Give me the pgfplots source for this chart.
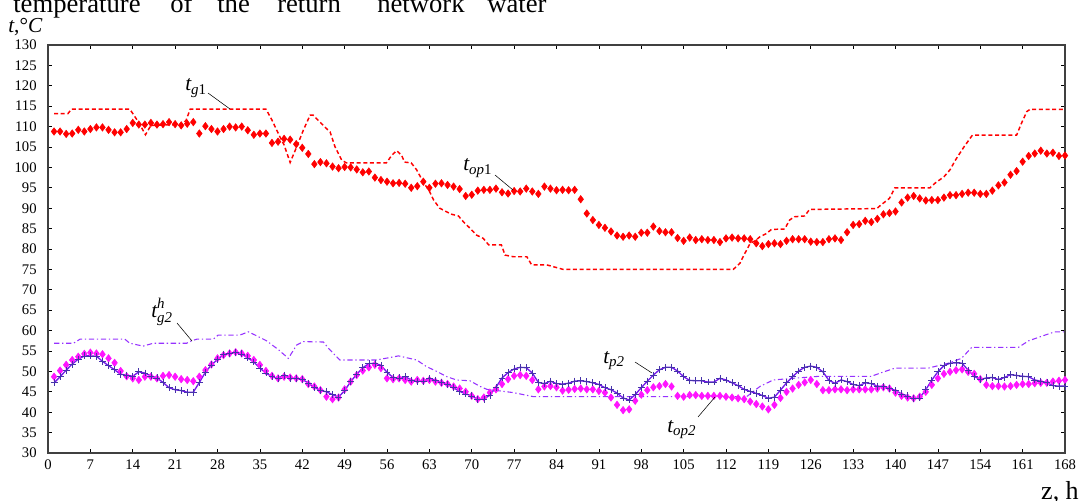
\documentclass[border=0pt]{standalone}
\usepackage{amsmath}
\usepackage{pgfplots}
\pgfplotsset{compat=1.18}
\usepackage{fontspec}
\setmainfont{Liberation Serif}
\definecolor{myred}{RGB}{255,0,0}
\definecolor{mymag}{RGB}{255,20,255}
\definecolor{myviol}{RGB}{115,25,235}
\definecolor{mymark}{RGB}{70,50,170}
\definecolor{mydd}{RGB}{150,50,255}
\begin{document}
\begin{tikzpicture}
\begin{axis}[
  at={(0,0)}, anchor=south west,
  scale only axis, width=762.75pt, height=306pt,
  xmin=0, xmax=168, ymin=30, ymax=130,
  xtick={0,7,...,168}, ytick={30,35,...,130},
  tick align=inside, major tick length=3pt,
  axis line style={black!75, line width=0.8pt},
  tick style={black, line width=0.5pt},
  tick label style={font=\fontsize{11}{13}\selectfont},
  yticklabel style={xshift=-5pt},
  xticklabel style={yshift=-1.5pt},
  /pgf/number format/assume math mode=true,
  clip=false,
]
% t_g1 dashed
\addplot[myred, line width=1.1pt, dash pattern=on 3pt off 2pt] coordinates {
(1,113.2)(3.3,113.2)(3.9,114.3)(13.5,114.3)(15,111)(16.1,108)(17,110.3)(22,110.5)(22.8,111.5)(23.5,114.3)(36,114.3)(37,111.6)(38.3,107.5)(39,105.5)(40,101.2)(41.1,105.1)(42.2,109.2)(43.3,112.8)(43.8,112.8)(44.6,111.6)(45.8,109.8)(46.6,108.7)(47.4,105.1)(48.5,101.8)(49.3,101.1)(55.9,101.1)(56.8,103)(57.6,104.1)(58.4,103)(58.9,101.3)(60,101.1)(60.9,99.4)(62.1,96.1)(62.9,94.5)(63.7,92)(64.7,90)(65.6,89.3)(66.7,88.5)(67.8,88.1)(68.6,86.7)(69.7,85.1)(70.8,83.4)(71.9,82.6)(72.8,81)(74.9,81)(75.5,78.5)(76.9,78.1)(79.1,78.1)(79.9,76.1)(82.4,76.1)(85.1,75.0)(113.2,75.0)(114.3,76.5)(115.1,78.9)(116,81.4)(116.8,82)(117.6,83)(118.7,83.8)(119.5,84.8)(121.7,84.9)(122.5,87.1)(123.3,87.9)(125,88.1)(125.8,89.7)(136.9,89.9)(137.6,90.8)(139,92.4)(139.9,95.0)(145.7,95.0)(146.5,96.1)(148,97.7)(149,99.4)(149.9,101.8)(151.3,105)(152.7,107.9)(160,107.9)(160.8,110.8)(161.7,113.7)(162.2,114.2)(168,114.2)
};
% t_op1 diamonds
\addplot[only marks, mark=diamond*, mark size=2.8pt, color=myred] coordinates {
(1,108.8)(2,108.8)(3,108.2)(4,108.3)(5,109.2)(6,108.8)(7,109.4)(8,109.8)(9,109.8)(10,109.2)
(11,108.6)(12,108.6)(13,109.4)(14,110.9)(15,110.5)(16,110.5)(17,110.9)(18,110.5)(19,110.6)(20,111.1)
(21,110.6)(22,110.3)(23,110.7)(24,111.1)(25,108.3)(26,110.1)(27,109.4)(28,108.8)(29,109.4)(30,110.0)
(31,109.8)(32,110.0)(33,109.1)(34,108.0)(35,108.3)(36,108.3)(37,106.0)(38,106.3)(39,107.0)(40,106.8)
(41,105.7)(42,104.8)(43,103.3)(44,100.8)(45,101.3)(46,101.0)(47,100.2)(48,99.8)(49,100.1)(50,100.0)
(51,99.5)(52,98.8)(53,99.0)(54,97.5)(55,96.9)(56,96.5)(57,96.1)(58,96.2)(59,96.0)(60,95.0)
(61,95.4)(62,96.5)(63,95.0)(64,96.0)(65,96.1)(66,95.7)(67,95.3)(68,94.7)(69,93.0)(70,93.3)
(71,94.3)(72,94.5)(73,94.5)(74,94.8)(75,93.9)(76,93.6)(77,94.2)(78,94.1)(79,94.8)(80,94.1)
(81,93.5)(82,95.3)(83,94.8)(84,94.4)(85,94.5)(86,94.4)(87,94.5)(88,92.2)(89,88.7)(90,87.1)
(91,85.9)(92,85.2)(93,84.3)(94,83.3)(95,83.0)(96,83.3)(97,83.0)(98,84.0)(99,84.0)(100,85.5)
(101,84.4)(102,84.1)(103,84.1)(104,82.7)(105,82.0)(106,82.8)(107,82.2)(108,82.4)(109,82.2)(110,82.2)
(111,81.7)(112,82.6)(113,82.8)(114,82.6)(115,82.6)(116,82.4)(117,81.4)(118,80.7)(119,81.2)(120,81.4)
(121,81.2)(122,82.0)(123,82.4)(124,82.4)(125,82.4)(126,81.8)(127,81.7)(128,81.7)(129,82.4)(130,82.6)
(131,82.2)(132,84.1)(133,85.9)(134,86.1)(135,86.9)(136,86.6)(137,87.4)(138,88.5)(139,88.8)(140,89.2)
(141,91.4)(142,92.6)(143,93.0)(144,92.4)(145,91.9)(146,92.0)(147,92.0)(148,92.6)(149,93.2)(150,93.2)
(151,93.5)(152,93.8)(153,93.8)(154,93.5)(155,93.5)(156,94.3)(157,95.6)(158,96.3)(159,98.2)(160,99.1)
(161,101.4)(162,102.8)(163,103.4)(164,104.1)(165,103.4)(166,103.6)(167,102.8)(168,102.9)
};
% t_g2^h dash-dot
\addplot[mydd, line width=0.8pt, dash pattern=on 4pt off 2pt on 1pt off 2pt] coordinates {
(1,56.9)(4.2,56.9)(5.3,57.9)(12.7,57.9)(13.5,56.9)(15.7,56.2)(17.4,56.9)(22.9,56.9)(23.7,57.5)(24.6,57.9)(27.3,57.9)(28.1,58.9)(31.7,58.9)(33.1,59.7)(34.5,58.7)(36.1,57.5)(38,55.4)(39.7,53.2)(41.1,56.5)(42.2,57.3)(45.5,57.2)(46.3,55.7)(48.2,52.8)(54.3,52.8)(57.9,53.8)(60.9,52.8)(62.5,51.2)(64.2,50)(65.9,48.7)(67.5,47.9)(69.7,47.7)(71.4,46.3)(72.5,45.6)(74.7,45.2)(76.9,44.8)(80.2,43.8)(115.4,43.8)(117.6,46.3)(119.8,47.9)(123,48.3)(127.4,48.8)(136,48.8)(137.7,49.7)(139.9,50.8)(145.4,50.8)(148.7,52)(150.9,53.2)(152.6,55.9)(160.3,55.9)(162,57.5)(164.7,58.9)(166.3,59.7)(168,59.7)
};
% t_op2 magenta diamonds
\addplot[only marks, mark=diamond*, mark size=2.8pt, color=mymag] coordinates {
(1,48.7)(2,50.2)(3,51.6)(4,52.8)(5,53.6)(6,54.3)(7,54.6)(8,54.4)(9,54.2)(10,53.2)
(11,52.1)(12,50.1)(13,48.8)(14,48.3)(15,47.9)(16,48.7)(17,48.7)(18,48.3)(19,48.9)(20,49.1)
(21,48.7)(22,48.1)(23,47.9)(24,47.6)(25,48.7)(26,50.3)(27,51.7)(28,53.2)(29,54.0)(30,54.4)
(31,54.7)(32,54.4)(33,53.8)(34,52.8)(35,51.6)(36,50.1)(37,48.9)(38,48.3)(39,48.7)(40,48.5)
(41,48.3)(42,48.1)(43,46.9)(44,46.3)(45,45.4)(46,43.8)(47,43.2)(48,43.6)(49,45.6)(50,47.5)
(51,49.1)(52,50.2)(53,51.0)(54,51.6)(55,50.8)(56,48.3)(57,48.1)(58,48.3)(59,47.9)(60,47.5)
(61,47.9)(62,47.7)(63,47.9)(64,47.5)(65,47.2)(66,46.9)(67,46.3)(68,45.8)(69,45.0)(70,44.0)
(71,43.2)(72,43.6)(73,44.8)(74,45.6)(75,46.9)(76,48.1)(77,48.9)(78,49.1)(79,48.9)(80,47.9)
(81,45.6)(82,46.3)(83,46.4)(84,46.1)(85,45.3)(86,45.5)(87,45.7)(88,45.8)(89,45.6)(90,45.6)
(91,45.2)(92,44.8)(93,43.6)(94,41.8)(95,40.5)(96,40.7)(97,42.8)(98,44.3)(99,45.4)(100,46.1)
(101,46.4)(102,46.9)(103,46.3)(104,44.0)(105,43.8)(106,44.2)(107,44.2)(108,44.0)(109,44.0)(110,44.0)
(111,44.0)(112,43.8)(113,43.6)(114,43.4)(115,43.2)(116,42.6)(117,42.0)(118,41.4)(119,40.7)(120,41.8)
(121,43.5)(122,45.0)(123,45.8)(124,46.7)(125,47.3)(126,47.9)(127,46.9)(128,45.4)(129,45.4)(130,45.6)
(131,45.6)(132,45.4)(133,45.6)(134,45.6)(135,45.6)(136,45.6)(137,45.8)(138,46.1)(139,45.8)(140,44.8)
(141,44.0)(142,43.6)(143,43.4)(144,43.8)(145,45.0)(146,46.7)(147,48.3)(148,49.4)(149,49.9)(150,50.3)
(151,50.5)(152,49.9)(153,49.4)(154,48.1)(155,46.7)(156,46.4)(157,46.4)(158,46.3)(159,46.4)(160,46.7)
(161,46.9)(162,46.9)(163,47.1)(164,47.2)(165,47.2)(166,47.5)(167,47.7)(168,47.9)
};
% t_p2 line with + marks
\addplot[myviol, line width=1pt, mark=+, mark size=2.6pt, mark options={mymark, line width=0.5pt, solid}] coordinates {
(1,47.2)(2,48.7)(3,50.3)(4,51.8)(5,53.0)(6,53.8)(7,53.8)(8,53.7)(9,52.5)(10,51.4)
(11,50.4)(12,49.3)(13,49.1)(14,48.8)(15,49.9)(16,49.6)(17,48.9)(18,48.4)(19,47.3)(20,46.0)
(21,45.5)(22,45.3)(23,44.9)(24,44.9)(25,47.3)(26,49.8)(27,51.6)(28,52.9)(29,54.1)(30,54.5)
(31,54.6)(32,54.3)(33,53.3)(34,52.3)(35,50.8)(36,49.6)(37,48.7)(38,48.3)(39,49.1)(40,48.3)
(41,48.3)(42,48.1)(43,47.1)(44,46.1)(45,45.3)(46,45.0)(47,44.3)(48,43.7)(49,45.3)(50,47.5)
(51,49.3)(52,50.9)(53,51.9)(54,52.0)(55,51.5)(56,49.8)(57,48.5)(58,48.4)(59,48.7)(60,47.9)
(61,47.6)(62,47.6)(63,48.2)(64,47.9)(65,47.3)(66,46.8)(67,46.0)(68,45.1)(69,44.5)(70,44.0)
(71,43.1)(72,43.2)(73,44.2)(74,46.1)(75,48.4)(76,49.7)(77,50.6)(78,51.0)(79,50.9)(80,49.6)
(81,47.3)(82,47.0)(83,47.6)(84,47.0)(85,46.9)(86,47.1)(87,47.6)(88,47.7)(89,47.5)(90,47.2)
(91,46.8)(92,46.0)(93,45.5)(94,44.7)(95,43.5)(96,43.0)(97,44.3)(98,46.0)(99,47.6)(100,49.1)
(101,50.4)(102,51.0)(103,51.0)(104,50.1)(105,48.7)(106,47.8)(107,47.7)(108,47.7)(109,47.4)(110,47.4)
(111,48.3)(112,47.9)(113,47.2)(114,46.5)(115,45.6)(116,45.1)(117,44.6)(118,44.1)(119,43.4)(120,43.7)
(121,45.4)(122,47.2)(123,48.7)(124,50.1)(125,51.0)(126,51.3)(127,51.0)(128,49.9)(129,47.8)(130,47.1)
(131,47.9)(132,47.5)(133,46.8)(134,46.5)(135,47.2)(136,47.0)(137,46.4)(138,46.3)(139,45.9)(140,45.3)
(141,44.5)(142,44.0)(143,43.3)(144,43.5)(145,45.5)(146,47.9)(147,49.9)(148,51.4)(149,52.0)(150,52.1)
(151,52.0)(152,50.3)(153,48.8)(154,48.0)(155,48.4)(156,48.5)(157,48.0)(158,48.5)(159,49.2)(160,49.0)
(161,48.8)(162,48.7)(163,47.9)(164,47.6)(165,47.3)(166,46.5)(167,46.4)(168,46.4)
};
\end{axis}
% annotations (1px = 0.75pt, origin at axis lower-left)
\def\lblfont{\fontsize{16}{18}\selectfont}
\node[anchor=base west, inner sep=0pt] at (102.75pt,271.5pt) {\lblfont$\textit{t}_{\text{\textit{g}1}}$};
\draw[black, line width=0.4pt] (120pt,270pt) -- (136.5pt,258pt);
\node[anchor=base west, inner sep=0pt] at (311.25pt,211.5pt) {\lblfont$\textit{t}_{\text{\textit{op}1}}$};
\draw[black, line width=0.4pt] (335.25pt,208.5pt) -- (348.75pt,197.25pt);
\node[anchor=base west, inner sep=0pt] at (77.25pt,102pt) {\lblfont$\textit{t}^{\textit{h}}_{\textit{g2}}$};
\draw[black, line width=0.4pt] (96.75pt,97.5pt) -- (108pt,84pt);
\node[anchor=base west, inner sep=0pt] at (416.25pt,67.5pt) {\lblfont$\textit{t}_{\textit{p2}}$};
\draw[black, line width=0.4pt] (440.25pt,68.25pt) -- (453pt,60pt);
\node[anchor=base west, inner sep=0pt] at (464.25pt,15.75pt) {\lblfont$\textit{t}_{\textit{op2}}$};
\draw[black, line width=0.4pt] (487.5pt,27pt) -- (500.25pt,42pt);
% axis unit label
\node[anchor=base west, inner sep=0pt] at (-30pt,315pt) {\lblfont\textit{t},°\textit{C}};
\node[anchor=base east, inner sep=0pt] at (773.25pt,-34.5pt) {\fontsize{19.5}{22}\selectfont z, h};
% cut-off title line
\begin{scope}[every node/.style={anchor=base west, inner sep=0pt, font=\fontsize{20}{24}\selectfont}]
\node at (-26.25pt,330pt) {temperature};
\node at (91.5pt,330pt) {of};
\node at (126.75pt,330pt) {the};
\node at (171.75pt,330pt) {return};
\node at (246.75pt,330pt) {network};
\node at (329.25pt,330pt) {water};
\end{scope}
\pgfresetboundingbox
\path[use as bounding box] (-36pt,-35.25pt) rectangle (774.75pt,339.75pt);
\end{tikzpicture}
\end{document}
